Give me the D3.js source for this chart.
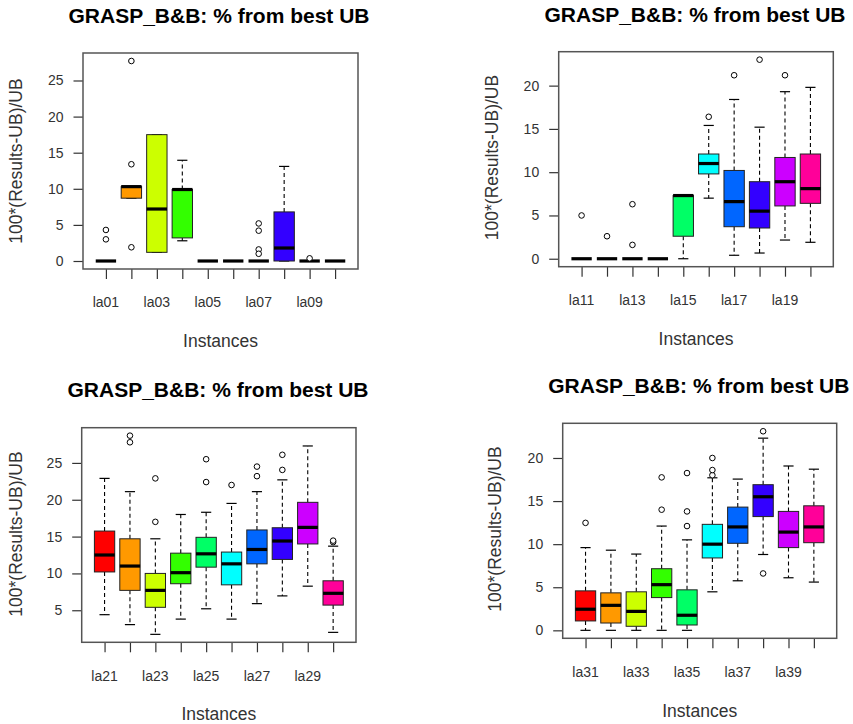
<!DOCTYPE html>
<html>
<head>
<meta charset="utf-8">
<script src="https://cdn.jsdelivr.net/npm/d3@7"></script>
<style>
  html, body { margin: 0; padding: 0; background: #fff; }
  svg { display: block; }
</style>
</head>
<body>
<svg id="chart" width="853" height="724"></svg>
<script>
// ---- data: five-number summaries (lower whisker, Q1, median, Q3, upper whisker) and outliers ----
const instancesA = ["la01","la02","la03","la04","la05","la06","la07","la08","la09","la10"];
const statsA = [
  [0, 0, 0, 0, 0],
  [8.7, 8.7, 10.3, 10.3, 10.3],
  [1.2, 1.2, 7.2, 17.5, 17.5],
  [2.8, 3.2, 9.9, 9.9, 13.95],
  [0, 0, 0, 0, 0],
  [0, 0, 0, 0, 0],
  [0, 0, 0, 0, 0],
  [0, 0, 1.8, 6.8, 13.1],
  [0, 0, 0, 0, 0],
  [0, 0, 0, 0, 0]
];
const outliersA = [[4.3, 3.0], [27.7, 13.4, 1.9], [], [], [], [], [5.2, 4.2, 1.6, 1.0], [], [0.37], []];
const yTicksA = [0, 5, 10, 15, 20, 25];

const instancesB = ["la11","la12","la13","la14","la15","la16","la17","la18","la19","la20"];
const statsB = [
  [0, 0, 0, 0, 0],
  [0, 0, 0, 0, 0],
  [0, 0, 0, 0, 0],
  [0, 0, 0, 0, 0],
  [0, 2.6, 7.3, 7.3, 7.3],
  [7.0, 9.8, 11.0, 12.1, 15.4],
  [0.4, 3.7, 6.6, 10.2, 18.4],
  [0.66, 3.55, 5.5, 8.9, 15.2],
  [2.16, 6.1, 8.9, 11.7, 19.3],
  [1.9, 6.4, 8.1, 12.1, 19.8]
];
const outliersB = [[5.0], [2.6], [6.3, 1.6], [], [], [16.4], [21.2], [23.0], [21.2], []];
const yTicksB = [0, 5, 10, 15, 20];

const instancesC = ["la21","la22","la23","la24","la25","la26","la27","la28","la29","la30"];
const statsC = [
  [4.4, 10.2, 12.5, 15.75, 22.9],
  [3.05, 7.7, 11.0, 14.7, 21.1],
  [1.73, 5.4, 7.7, 10.0, 14.7],
  [3.8, 8.6, 10.1, 12.75, 18.0],
  [5.2, 10.85, 12.66, 14.9, 18.3],
  [3.8, 8.45, 11.3, 12.9, 19.5],
  [5.9, 11.3, 13.25, 15.9, 21.1],
  [6.95, 11.9, 14.4, 16.2, 22.7],
  [8.27, 14.0, 16.25, 19.65, 27.3],
  [2.0, 5.7, 7.3, 9.0, 13.7]
];
const outliersC = [[], [27.8, 28.7], [17.0, 22.9], [], [22.4, 25.5], [22.0], [23.2, 24.5], [24.05, 26.1], [], [14.25, 14.45]];
const yTicksC = [5, 10, 15, 20, 25];

const instancesD = ["la31","la32","la33","la34","la35","la36","la37","la38","la39","la40"];
const statsD = [
  [0, 1.09, 2.45, 4.58, 9.6],
  [0, 0.85, 2.9, 4.35, 9.3],
  [0, 0.47, 2.2, 4.47, 8.85],
  [0, 3.8, 5.3, 7.15, 12.1],
  [0, 0.62, 1.75, 4.7, 10.5],
  [4.47, 8.4, 10.0, 12.3, 17.7],
  [5.75, 10.1, 12.0, 14.3, 17.55],
  [8.8, 13.2, 15.5, 16.9, 22.3],
  [6.1, 9.6, 11.4, 13.8, 19.07],
  [5.6, 10.17, 12.0, 14.45, 18.7]
];
const outliersD = [[12.47], [], [], [14.0, 17.75], [12.1, 13.8, 18.25], [18.0, 18.6, 20.0], [], [23.1, 6.6], [], []];
const yTicksD = [0, 5, 10, 15, 20];

// rainbow(10) fill colours
const boxColors = ["#FF0000","#FF9900","#CCFF00","#33FF00","#00FF66","#00FFFF","#0066FF","#3300FF","#CC00FF","#FF0099"];

const titleText = "GRASP_B&B: % from best UB";
const xTitle = "Instances";
const yTitle = "100*(Results-UB)/UB";

// ---- panel layout ----
const panels = [
  { names: instancesA, stats: statsA, out: outliersA, ticks: yTicksA,
    box: { l: 83, r: 358, t: 53, b: 269 }, titleX: 219, titleY: 22.5,
    tickLabY: 307, xTitleY: 346.5, yTitleX: 16, yTitleY: 161 },
  { names: instancesB, stats: statsB, out: outliersB, ticks: yTicksB,
    box: { l: 558.7, r: 833.3, t: 51.7, b: 266.7 }, titleX: 695, titleY: 21.7,
    tickLabY: 305, xTitleY: 345, yTitleX: 492, yTitleY: 157.5 },
  { names: instancesC, stats: statsC, out: outliersC, ticks: yTicksC,
    box: { l: 81.7, r: 356, t: 427.7, b: 642.3 }, titleX: 218, titleY: 396.7,
    tickLabY: 680.7, xTitleY: 720, yTitleX: 16, yTitleY: 534 },
  { names: instancesD, stats: statsD, out: outliersD, ticks: yTicksD,
    box: { l: 562.7, r: 836.7, t: 423.3, b: 638.3 }, titleX: 698.8, titleY: 393.3,
    tickLabY: 676.7, xTitleY: 716.7, yTitleX: 495, yTitleY: 529 }
];

const svg = d3.select("#chart");
const font = "'Liberation Sans', Arial, sans-serif";

panels.forEach(p => {
  const g = svg.append("g");
  const n = p.names.length;

  // value range padded by 4% on each side, as R does
  const vals = p.stats.flat().concat(p.out.flat());
  const [lo, hi] = d3.extent(vals);
  const pad = (hi - lo) * 0.04;
  const y = d3.scaleLinear().domain([lo - pad, hi + pad]).range([p.box.b, p.box.t]);
  const xr = (n + 0.5 - 0.5) * 0.04;
  const x = d3.scaleLinear().domain([0.5 - xr, n + 0.5 + xr]).range([p.box.l, p.box.r]);
  const unit = x(2) - x(1);
  const bw = 0.8 * unit;
  const sw = bw * 0.5;

  // title
  g.append("text")
    .attr("x", p.titleX).attr("y", p.titleY)
    .attr("text-anchor", "middle")
    .attr("font-family", font).attr("font-weight", "bold").attr("font-size", 21)
    .attr("fill", "#000")
    .text(titleText);

  // y axis
  const yAxis = d3.axisLeft(y).tickValues(p.ticks).tickSize(9.5).tickPadding(10);
  const ya = g.append("g").attr("transform", `translate(${p.box.l},0)`).call(yAxis);
  ya.select(".domain").remove();
  ya.selectAll(".tick line").attr("stroke", "#333").attr("stroke-width", 1.2);
  ya.selectAll(".tick text")
    .attr("font-family", font).attr("font-size", 14).attr("fill", "#333");

  // x axis: a tick per instance, labels on every other one
  const xAxis = d3.axisBottom(x)
    .tickValues(d3.range(1, n + 1))
    .tickSize(10)
    .tickFormat(() => "");
  const xa = g.append("g").attr("transform", `translate(0,${p.box.b})`).call(xAxis);
  xa.select(".domain").remove();
  xa.selectAll(".tick line").attr("stroke", "#333").attr("stroke-width", 1.2);

  g.selectAll("text.xlab")
    .data(p.names.filter((d, i) => i % 2 === 0))
    .join("text")
    .attr("class", "xlab")
    .attr("x", d => x(p.names.indexOf(d) + 1))
    .attr("y", p.tickLabY)
    .attr("text-anchor", "middle")
    .attr("font-family", font).attr("font-size", 14).attr("fill", "#333")
    .text(d => d);

  // axis titles
  g.append("text")
    .attr("x", (p.box.l + p.box.r) / 2).attr("y", p.xTitleY)
    .attr("text-anchor", "middle")
    .attr("font-family", font).attr("font-size", 17.5).attr("fill", "#333")
    .text(xTitle);
  g.append("text")
    .attr("transform", `translate(${p.yTitleX + 6},${p.yTitleY}) rotate(-90)`)
    .attr("text-anchor", "middle")
    .attr("font-family", font).attr("font-size", 17.5).attr("fill", "#333")
    .text(yTitle);

  // boxes
  const items = p.stats.map((s, i) => ({ i, s, c: boxColors[i], out: p.out[i] }));
  const bg = g.selectAll("g.bx").data(items).join("g").attr("class", "bx");

  // whiskers (dashed)
  bg.append("line")
    .attr("x1", d => x(d.i + 1)).attr("x2", d => x(d.i + 1))
    .attr("y1", d => y(d.s[3])).attr("y2", d => y(d.s[4]))
    .attr("stroke", "#000").attr("stroke-width", 1.1).attr("stroke-dasharray", "4,3");
  bg.append("line")
    .attr("x1", d => x(d.i + 1)).attr("x2", d => x(d.i + 1))
    .attr("y1", d => y(d.s[1])).attr("y2", d => y(d.s[0]))
    .attr("stroke", "#000").attr("stroke-width", 1.1).attr("stroke-dasharray", "4,3");
  // staples
  [0, 4].forEach(k => {
    bg.append("line")
      .attr("x1", d => x(d.i + 1) - sw / 2).attr("x2", d => x(d.i + 1) + sw / 2)
      .attr("y1", d => y(d.s[k])).attr("y2", d => y(d.s[k]))
      .attr("stroke", "#000").attr("stroke-width", 1.2);
  });
  // box body
  bg.append("rect")
    .attr("x", d => x(d.i + 1) - bw / 2)
    .attr("width", bw)
    .attr("y", d => y(d.s[3]))
    .attr("height", d => y(d.s[1]) - y(d.s[3]))
    .attr("fill", d => d.c)
    .attr("stroke", "#222").attr("stroke-width", 1);
  // median
  bg.append("line")
    .attr("x1", d => x(d.i + 1) - bw / 2).attr("x2", d => x(d.i + 1) + bw / 2)
    .attr("y1", d => y(d.s[2])).attr("y2", d => y(d.s[2]))
    .attr("stroke", "#000").attr("stroke-width", 3.2);
  // outliers
  bg.selectAll("circle")
    .data(d => d.out.map(v => ({ v, i: d.i })))
    .join("circle")
    .attr("cx", d => x(d.i + 1)).attr("cy", d => y(d.v))
    .attr("r", 2.8)
    .attr("fill", "#fff").attr("stroke", "#000").attr("stroke-width", 1);

  // plot frame
  g.append("rect")
    .attr("x", p.box.l).attr("y", p.box.t)
    .attr("width", p.box.r - p.box.l).attr("height", p.box.b - p.box.t)
    .attr("fill", "none").attr("stroke", "#555").attr("stroke-width", 1.5);
});
</script>
</body>
</html>
